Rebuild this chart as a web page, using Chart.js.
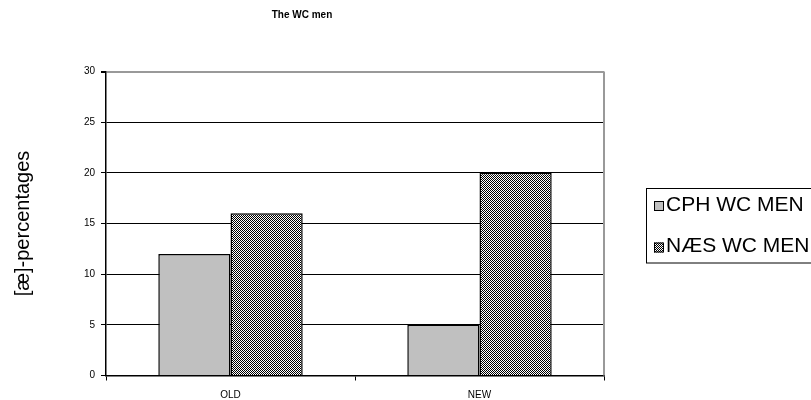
<!DOCTYPE html>
<html>
<head>
<meta charset="utf-8">
<title>The WC men</title>
<script src="https://cdn.jsdelivr.net/npm/chart.js@4.4.0/dist/chart.umd.min.js"></script>
<style>
  html, body { margin: 0; padding: 0; background: #fff; overflow: hidden; }
  #wrap { width: 811px; height: 400px; position: relative; }
</style>
</head>
<body>
<div id="wrap"><canvas id="grafica"></canvas></div>
<script>
// datos
const categorias = ["OLD", "NEW"];
const cphWcMen = [12, 5];
const naesWcMen = [16, 20];
const nombresSeries = ["CPH WC MEN", "NÆS WC MEN"];
const ticksY = [0, 5, 10, 15, 20, 25, 30];

Chart.defaults.font.family = "'Liberation Sans', Arial, sans-serif";
Chart.defaults.color = "#000";

// trama de puntitos para la segunda serie
function tramaPuntos() {
    const c = document.createElement("canvas");
    c.width = 2;
    c.height = 2;
    const g = c.getContext("2d");
    g.fillStyle = "#fff";
    g.fillRect(0, 0, 2, 2);
    g.fillStyle = "#000";
    g.fillRect(0, 0, 1, 1);
    g.fillRect(1, 1, 1, 1);
    return g.createPattern(c, "repeat");
}
const trama = tramaPuntos();
const grisClaro = "#c0c0c0";

// leyenda con marco y borde derecho del area de trazado
const extras = {
    id: "extras",
    afterDraw(chart) {
        const ctx = chart.ctx;
        const area = chart.chartArea;
        ctx.save();
        // borde derecho gris
        ctx.strokeStyle = "#999";
        ctx.lineWidth = 2;
        ctx.beginPath();
        ctx.moveTo(area.right, area.top);
        ctx.lineTo(area.right, area.bottom);
        ctx.stroke();

        // leyenda
        ctx.strokeStyle = "#000";
        ctx.lineWidth = 1;
        ctx.strokeRect(646.5, 188.5, 220, 74.5);
        const filas = [205, 246.5];
        chart.data.datasets.forEach((ds, i) => {
            const y = filas[i];
            ctx.fillStyle = ds.backgroundColor;
            ctx.fillRect(654, y - 4, 10, 10);
            ctx.strokeStyle = "#000";
            ctx.lineWidth = 1;
            ctx.strokeRect(654.5, y - 3.5, 9, 9);
            ctx.fillStyle = "#000";
            ctx.font = "21px 'Liberation Sans', Arial, sans-serif";
            ctx.textBaseline = "middle";
            ctx.textAlign = "left";
            ctx.fillText(ds.label, 666, y);
        });
        ctx.restore();
    }
};

const ctx1 = document.getElementById("grafica").getContext("2d");
const grafica = new Chart(ctx1, {
    type: "bar",
    data: {
        labels: categorias,
        datasets: [
            {
                label: nombresSeries[0],
                data: cphWcMen,
                backgroundColor: grisClaro,
                borderColor: "#000",
                borderWidth: 1.5,
            },
            {
                label: nombresSeries[1],
                data: naesWcMen,
                backgroundColor: trama,
                borderColor: "#000",
                borderWidth: 1.5,
            },
        ],
    },
    options: {
        responsive: true,
        maintainAspectRatio: false,
        animation: false,
        devicePixelRatio: 1,
        layout: {
            padding: { left: 0, right: 207, top: 0, bottom: 0 },
        },
        datasets: {
            bar: {
                categoryPercentage: 0.58,
                barPercentage: 1,
            },
        },
        plugins: {
            legend: { display: false },
            tooltip: { enabled: false },
            title: {
                display: true,
                text: "The WC men",
                font: { size: 10, weight: "bold" },
                color: "#000",
                padding: { top: 9, bottom: 50.5 },
            },
        },
        scales: {
            x: {
                grid: {
                    offset: true,
                    drawOnChartArea: false,
                    drawTicks: true,
                    tickLength: 5,
                    color: "#000",
                },
                border: { color: "#000", width: 1.5 },
                ticks: {
                    font: { size: 10 },
                    padding: 9,
                },
                afterFit(scale) {
                    scale.height = 24.5;
                },
            },
            y: {
                min: 0,
                max: 30,
                afterBuildTicks(scale) {
                    scale.ticks = ticksY.map((v) => ({ value: v }));
                },
                grid: {
                    color: (c) => (c.tick && c.tick.value === 30 ? "#999" : "#000"),
                    lineWidth: (c) => (c.tick && c.tick.value === 30 ? 2 : 1),
                    tickLength: 5,
                    tickColor: "#000",
                },
                border: { color: "#000", width: 1.5 },
                ticks: {
                    font: { size: 10 },
                    padding: 6,
                },
                title: {
                    display: true,
                    text: "[æ]-percentages",
                    font: { size: 20 },
                    color: "#000",
                    padding: { top: 11, bottom: 0 },
                },
                afterFit(scale) {
                    scale.width = 106;
                },
            },
        },
    },
    plugins: [extras],
});
</script>
</body>
</html>
